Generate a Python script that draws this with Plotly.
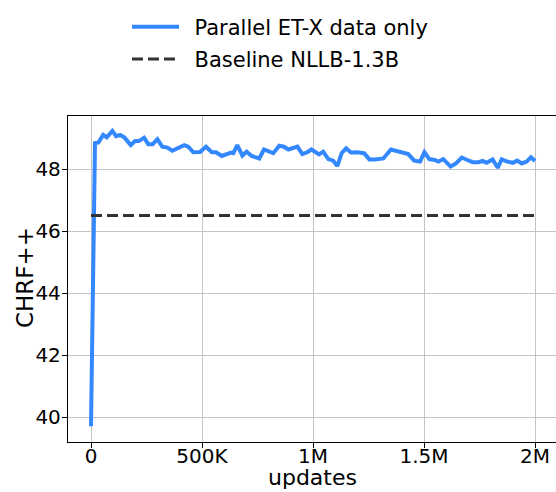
import plotly.graph_objects as go

# Training updates (thousands) and CHRF++ of the fine-tuned model
updates_k = [
    0, 18, 33, 55, 71, 96, 113, 131, 150, 179, 198, 216, 239, 258, 278, 299,
    321, 344, 366, 393, 420, 438, 461, 491, 518, 544, 563, 589, 611, 631, 641,
    659, 682, 701, 724, 758, 779, 799, 821, 848, 869, 889, 908, 930, 952, 974,
    993, 1013, 1027, 1046, 1069, 1091, 1110, 1129, 1149, 1171, 1197, 1230, 1254,
    1279, 1317, 1351, 1384, 1429, 1456, 1482, 1502, 1524, 1548, 1565, 1587, 1599,
    1620, 1644, 1670, 1695, 1719, 1745, 1764, 1782, 1809, 1832, 1850, 1875, 1900,
    1920, 1940, 1962, 1982, 2000,
]
chrf = [
    39.70, 48.84, 48.85, 49.10, 49.02, 49.23, 49.06, 49.10, 49.02, 48.77, 48.90,
    48.90, 49.01, 48.80, 48.80, 48.96, 48.72, 48.69, 48.59, 48.67, 48.77, 48.72,
    48.54, 48.55, 48.72, 48.54, 48.54, 48.42, 48.47, 48.53, 48.51, 48.77, 48.43,
    48.56, 48.42, 48.34, 48.63, 48.58, 48.51, 48.75, 48.72, 48.63, 48.67, 48.72,
    48.48, 48.54, 48.63, 48.55, 48.47, 48.56, 48.32, 48.27, 48.10, 48.51, 48.67,
    48.53, 48.54, 48.51, 48.31, 48.31, 48.34, 48.63, 48.58, 48.48, 48.27, 48.24,
    48.54, 48.32, 48.29, 48.24, 48.32, 48.24, 48.08, 48.18, 48.37, 48.29, 48.22,
    48.22, 48.26, 48.20, 48.31, 48.04, 48.31, 48.24, 48.20, 48.27, 48.18, 48.24,
    48.38, 48.26,
]
baseline_chrf = 46.5

x_tickvals = [0, 500000, 1000000, 1500000, 2000000]
x_ticktext = ["0", "500K", "1M", "1.5M", "2M"]
y_tickvals = [40, 42, 44, 46, 48]

updates = [u * 1000 for u in updates_k]
font = "DejaVu Sans, Verdana, sans-serif"

fig = go.Figure()
fig.add_trace(go.Scatter(
    x=updates, y=chrf, mode="lines", name="\u2002Parallel ET-X data only",
    line=dict(color="#3388ff", width=4), legendgroup="a",
))
fig.add_trace(go.Scatter(
    x=[updates[0], updates[-1]], y=[baseline_chrf, baseline_chrf], mode="lines",
    name="\u2002Baseline NLLB-1.3B", line=dict(color="#333333", width=3, dash="11px,5px"),
    legendgroup="b",
))

axis_common = dict(
    showgrid=True, gridcolor="#c4c4c4", gridwidth=1, zeroline=False,
    showline=True, linecolor="black", linewidth=1.3,
    ticks="outside", ticklen=5, tickwidth=1.3, tickcolor="black",
    tickfont=dict(family=font, size=20, color="black"),
)

fig.update_xaxes(
    range=[-103600, 2094600], tickvals=x_tickvals, ticktext=x_ticktext,
    mirror=True, ticklabelstandoff=-9,
    **axis_common,
)
fig.update_yaxes(
    range=[39.194, 49.71], tickvals=y_tickvals, mirror=False, ticklabelstandoff=-3,
    **axis_common,
)

# Axis titles
fig.add_annotation(text="updates", xref="paper", yref="paper", x=0.5, y=-0.1104,
                   xanchor="center", yanchor="middle", showarrow=False, borderpad=0,
                   font=dict(family=font, size=22, color="black"))
fig.add_annotation(text="CHRF++", xref="paper", yref="paper", x=-0.0881, y=0.503,
                   xanchor="center", yanchor="middle", textangle=-90, showarrow=False,
                   borderpad=0, font=dict(family=font, size=23, color="black"))

fig.update_layout(
    width=556, height=492,
    margin=dict(l=68, r=0, t=116, b=50, autoexpand=False),
    paper_bgcolor="white", plot_bgcolor="white",
    font=dict(family=font, color="black"),
    showlegend=True,
    legend=dict(
        x=0.1209, y=1.3356, xanchor="left", yanchor="top",
        font=dict(family=font, size=21, color="black"), bgcolor="rgba(0,0,0,0)",
        traceorder="grouped", tracegroupgap=2, itemwidth=47,
    ),
)

fig.write_html("out.html")
